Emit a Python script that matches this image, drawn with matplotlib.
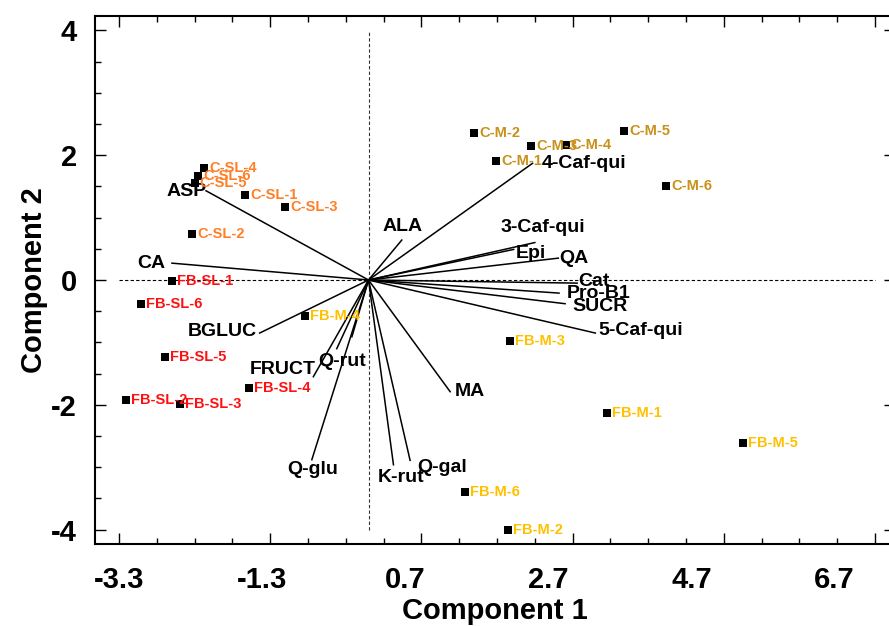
import numpy as np
import matplotlib
matplotlib.use("Agg")
import matplotlib.pyplot as plt
import matplotlib.transforms as mtransforms
from matplotlib.ticker import MultipleLocator, FixedLocator

plt.rcParams['font.family'] = ['Liberation Sans', 'DejaVu Sans']
plt.rcParams['axes.unicode_minus'] = False

# sample scores (component 1, component 2)
csl_names = ["C-SL-1", "C-SL-2", "C-SL-3", "C-SL-4", "C-SL-5", "C-SL-6"]
csl_x = [-1.63, -2.33, -1.10, -2.17, -2.30, -2.25]
csl_y = [1.36, 0.74, 1.17, 1.79, 1.55, 1.66]

fbsl_names = ["FB-SL-1", "FB-SL-2", "FB-SL-3", "FB-SL-4", "FB-SL-5", "FB-SL-6"]
fbsl_x = [-2.60, -3.21, -2.50, -1.58, -2.69, -3.01]
fbsl_y = [-0.01, -1.93, -1.99, -1.73, -1.23, -0.38]

cm_names = ["C-M-1", "C-M-2", "C-M-3", "C-M-4", "C-M-5", "C-M-6"]
cm_x = [1.69, 1.40, 2.15, 2.61, 3.38, 3.94]
cm_y = [1.91, 2.35, 2.14, 2.17, 2.38, 1.51]

fbm_names = ["FB-M-1", "FB-M-2", "FB-M-3", "FB-M-4", "FB-M-5", "FB-M-6"]
fbm_x = [3.15, 1.85, 1.87, -0.84, 4.96, 1.28]
fbm_y = [-2.13, -4.00, -0.97, -0.58, -2.61, -3.40]

# loadings (line end points)
load_names = ["ASP", "CA", "ALA", "4-Caf-qui", "3-Caf-qui", "Epi", "QA", "Cat",
              "Pro-B1", "SUCR", "5-Caf-qui", "BGLUC", "FRUCT", "Q-rut", "",
              "Q-glu", "K-rut", "Q-gal", "MA"]
load_x = [-2.15, -2.60, 0.44, 2.17, 2.20, 1.92, 2.51, 2.76,
          2.52, 2.60, 3.00, -1.44, -0.73, -0.42, -0.22,
          -0.75, 0.33, 0.55, 1.08]
load_y = [1.43, 0.27, 0.64, 1.87, 0.60, 0.49, 0.35, -0.05,
          -0.21, -0.38, -0.85, -0.85, -1.55, -1.10, -0.91,
          -2.88, -2.96, -2.89, -1.79]
# label offsets in pixels and horizontal alignment
load_dx = [1, -7, 1, 9, 8, 2, 1, 1, 8, 7, 3, -3, 2, 5, 0, 1, 8, 7, 5]
load_dy = [-1, 0, 14, 0, 15, -4, 0, 2, 0, -3, 3, 2, 7, -13, 0, -10, -13, -7, 0]
load_ha = ["right", "right", "center", "left", "center", "left", "left", "left",
           "left", "left", "left", "right", "right", "center", "left",
           "center", "center", "left", "left"]

xtick_vals = [-3.3, -1.3, 0.7, 2.7, 4.7, 6.7]
xtick_labels = ["-3.3", "-1.3", "0.7", "2.7", "4.7", "6.7"]

fig = plt.figure(figsize=(8.89, 6.26), dpi=100)
ax = fig.add_axes([95 / 889, 82 / 626, 800 / 889, 528 / 626])
ax.set_xlim(-3.618, 6.964)
ax.set_ylim(-4.23, 4.23)

# reference lines
ax.plot([-3.3, 6.7], [0, 0], ls=(0, (3, 2)), lw=0.8, color="black", zorder=1)
ax.plot([0, 0], [-4, 4], ls=(0, (3, 2)), lw=0.8, color="#333333", zorder=1)

# loading vectors
for name, x, y, dx, dy, ha in zip(load_names, load_x, load_y, load_dx, load_dy, load_ha):
    ax.plot([0, x], [0, y], color="black", lw=1.1, zorder=2)
    if name:
        ax.annotate(name, (x, y), xytext=(dx, dy), textcoords="offset pixels",
                    ha=ha, va="center", fontsize=14, fontweight="bold",
                    color="black", zorder=4)

groups = [
    (csl_names, csl_x, csl_y, "#FF7F27"),
    (fbsl_names, fbsl_x, fbsl_y, "#FF1010"),
    (cm_names, cm_x, cm_y, "#C9901A"),
    (fbm_names, fbm_x, fbm_y, "#FFC000"),
]
for names, xs, ys, col in groups:
    ax.scatter(xs, ys, marker="s", s=30, color="black", zorder=3, linewidths=0)
    for n, x, y in zip(names, xs, ys):
        ax.annotate(n, (x, y), xytext=(5, 0), textcoords="offset pixels",
                    ha="left", va="center", fontsize=10.5, fontweight="bold",
                    color=col, zorder=4)

ax.xaxis.set_major_locator(FixedLocator(xtick_vals))
ax.xaxis.set_minor_locator(FixedLocator(np.arange(-3.3, 7.0, 0.5)))
ax.yaxis.set_major_locator(MultipleLocator(2))
ax.yaxis.set_minor_locator(MultipleLocator(0.5))
ax.set_xticklabels(xtick_labels)
ax.tick_params(which="both", direction="in", top=True, right=True, width=1)
ax.tick_params(which="major", length=8)
ax.tick_params(which="minor", length=4)
ax.tick_params(axis="x", which="major", pad=16, labelsize=21)
ax.tick_params(axis="y", which="major", pad=13, labelsize=21)
for lab in ax.get_xticklabels() + ax.get_yticklabels():
    lab.set_fontweight("bold")
# the original's tick labels drift left of their ticks
for i, lab in enumerate(ax.get_xticklabels()):
    shift = mtransforms.ScaledTranslation(-8.1 * i / 100, 0, fig.dpi_scale_trans)
    lab.set_transform(lab.get_transform() + shift)
for sp in ax.spines.values():
    sp.set_linewidth(1.5)

ax.set_xlabel("Component 1", fontsize=21, fontweight="bold", labelpad=2)
ax.set_ylabel("Component 2", fontsize=21, fontweight="bold", labelpad=2)

fig.savefig("out.png", dpi=100)
